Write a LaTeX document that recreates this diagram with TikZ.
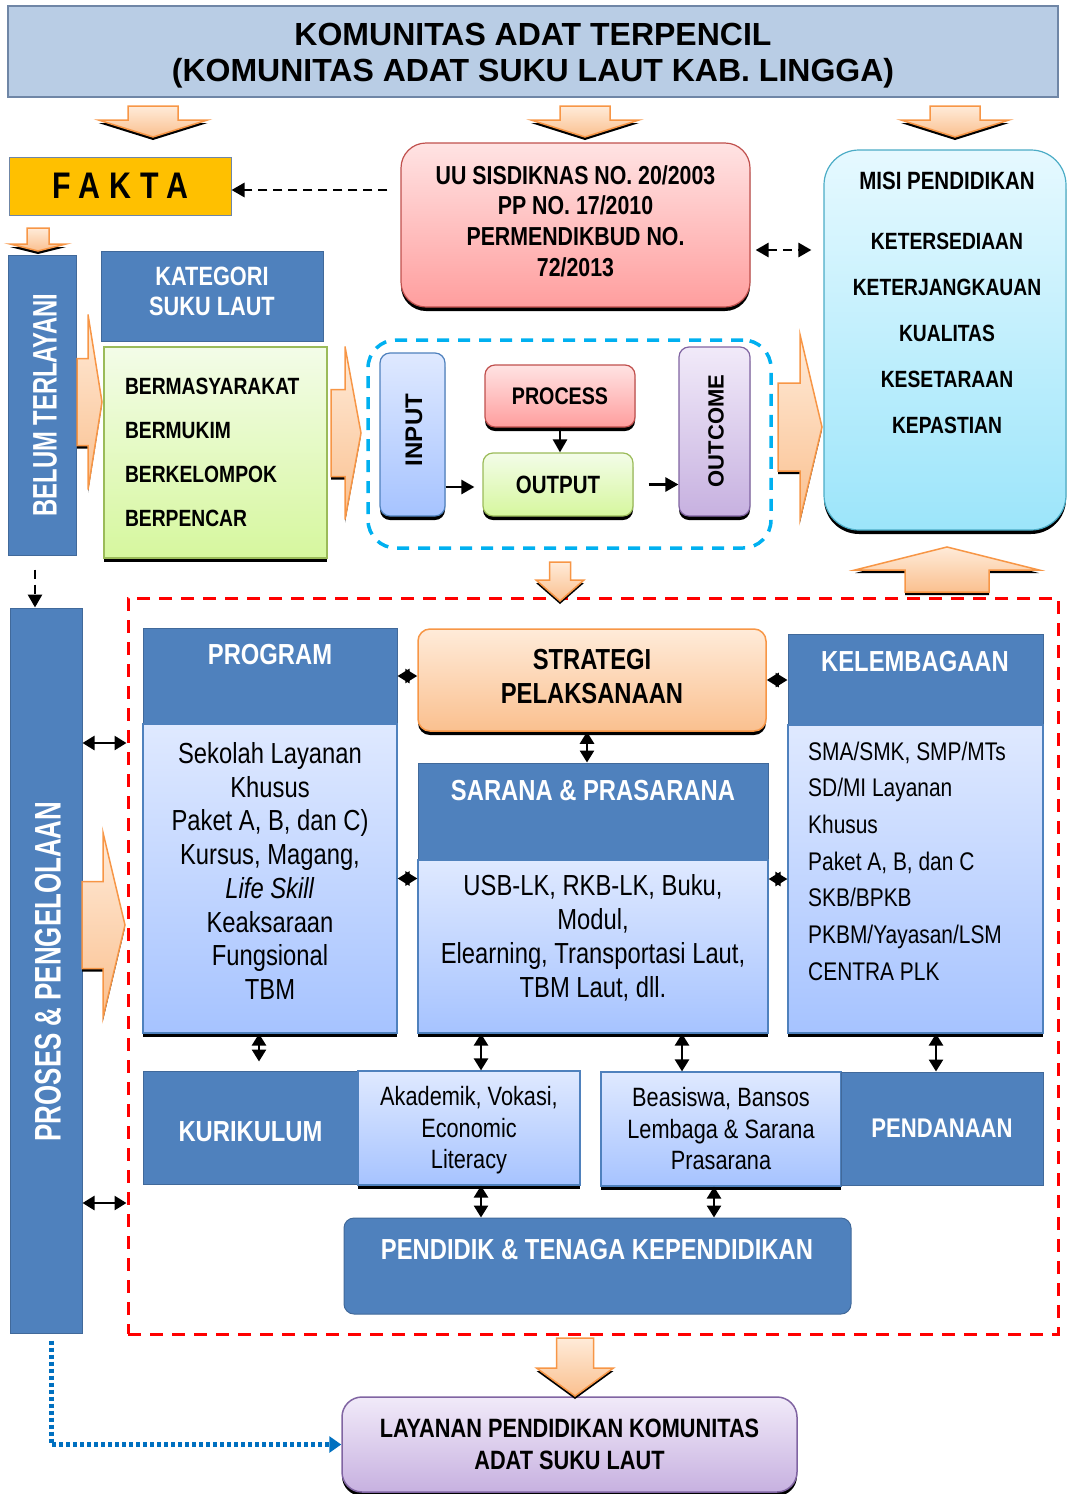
\documentclass[tikz,border=0pt]{standalone}
\usepackage{fontspec}
\setmainfont{Liberation Sans}
\newfontfamily\nar[FakeStretch=0.82]{Liberation Sans}
\newfontfamily\cnd[FakeStretch=0.7]{Liberation Sans}
\usetikzlibrary{arrows.meta}

\definecolor{hdblue}{HTML}{4F81BD}
\definecolor{hdline}{HTML}{41699A}
\definecolor{titlefill}{HTML}{B9CDE5}
\definecolor{titleline}{HTML}{6F86A6}
\definecolor{faktafill}{HTML}{FFC000}
\definecolor{uutop}{HTML}{FFE3E3}
\definecolor{uubot}{HTML}{FF9E9E}
\definecolor{redline}{HTML}{C0504D}
\definecolor{misitop}{HTML}{E6F9FF}
\definecolor{misibot}{HTML}{9CE5FA}
\definecolor{misiline}{HTML}{4BACC6}
\definecolor{grntop}{HTML}{F3FCE8}
\definecolor{grnbot}{HTML}{D6F79E}
\definecolor{grnline}{HTML}{9BBB59}
\definecolor{blutop}{HTML}{DFE9FF}
\definecolor{blubot}{HTML}{A6C3FF}
\definecolor{bluline}{HTML}{4F81BD}
\definecolor{purtop}{HTML}{F1EAF9}
\definecolor{purbot}{HTML}{C7B1E0}
\definecolor{purline}{HTML}{8064A2}
\definecolor{orgtop}{HTML}{FFEBD9}
\definecolor{orgbot}{HTML}{FAC08F}
\definecolor{orgline}{HTML}{F79646}
\definecolor{cyanline}{HTML}{00B0F0}
\definecolor{dotblue}{HTML}{0070C0}

\newcommand{\fs}[2]{\fontsize{#1}{#2}\selectfont}
% block arrows: tail, base, tip, middle, half shaft, half head
\newcommand{\rarr}[6]{\draw[barrow] ({#1},{#4-#5}) -- ({#2},{#4-#5}) -- ({#2},{#4-#6}) -- ({#3},{#4}) -- ({#2},{#4+#6}) -- ({#2},{#4+#5}) -- ({#1},{#4+#5}) -- cycle;}
\newcommand{\varr}[6]{\draw[barrow] ({#1-#5},{#2}) -- ({#1+#5},{#2}) -- ({#1+#5},{#3}) -- ({#1+#6},{#3}) -- ({#1},{#4}) -- ({#1-#6},{#3}) -- ({#1-#5},{#3}) -- cycle;}

\begin{document}
\begin{tikzpicture}[x=1pt,y=-1pt,
  every node/.style={inner sep=0pt,align=center},
  drop/.style={preaction={fill=black,transform canvas={yshift=-4pt}}},
  hdr/.style={fill=hdblue,draw=hdline,line width=1pt},
  body/.style={top color=blutop,bottom color=blubot,draw=bluline,line width=1.2pt},
  wt/.style={text=white,font=\nar\bfseries\fs{29}{34}},
  barrow/.style={draw=orgline,line width=1.5pt,top color=orgtop,bottom color=orgbot,
    preaction={fill=black,transform canvas={yshift=-3pt}}},
  bi/.style={{Triangle[length=12pt,width=14pt]}-{Triangle[length=12pt,width=14pt]},line width=2.6pt},
  one/.style={-{Triangle[length=13pt,width=14pt]},line width=2.6pt},
  dasharr/.style={-{Triangle[length=13pt,width=14pt]},line width=2.8pt,dash pattern=on 9pt off 6pt}]

  \useasboundingbox (0,0) rectangle (1067,1494);

  \node[fill=titlefill,draw=titleline,line width=1.2pt,minimum width=1050,minimum height=91] (judul) at (533,51.5) {};
  \node[font=\bfseries\fs{32}{36}] (judult) at (533,56)
    {KOMUNITAS ADAT TERPENCIL\\(KOMUNITAS ADAT SUKU LAUT KAB. LINGGA)};

  \node[fill=faktafill,draw=titleline,line width=1pt,minimum width=222,minimum height=58,
    font=\nar\bfseries\fs{37}{40}\addfontfeatures{LetterSpace=25}] (fakta) at (120,186) {FAKTA};

  \node[drop,top color=uutop,bottom color=uubot,draw=redline,line width=1.2pt,rounded corners=25pt,
    minimum width=349,minimum height=164] (uu) at (575.5,225) {};
  \node[font=\nar\bfseries\fs{26}{30.7}] (uut) at (575.5,221)
    {UU SISDIKNAS NO. 20/2003\\PP NO. 17/2010\\PERMENDIKBUD NO.\\72/2013};

  \node[drop,top color=misitop,bottom color=misibot,draw=misiline,line width=1.2pt,rounded corners=35pt,
    minimum width=242,minimum height=380] (misi) at (945,340) {};
  \node[font=\nar\bfseries\fs{23.5}{46}] (misit) at (947,303)
    {\fs{25}{46}MISI PENDIDIKAN\\[14pt]KETERSEDIAAN\\KETERJANGKAUAN\\KUALITAS\\KESETARAAN\\KEPASTIAN};

  \node[hdr,minimum width=68,minimum height=300] (belum) at (42,405) {};
  \node[rotate=90,text=white,font=\cnd\bfseries\fs{34}{36}] (belumt) at (45,405) {BELUM TERLAYANI};

  \node[hdr,minimum width=222,minimum height=90] (kat) at (212,296) {};
  \node[text=white,font=\nar\bfseries\fs{26.5}{30}] (katt) at (212,291) {KATEGORI\\SUKU LAUT};

  \node[drop,top color=grntop,bottom color=grnbot,draw=grnline,line width=1.2pt,
    minimum width=223,minimum height=211,text width=181pt,inner xsep=21pt,align=left,
    font=\nar\bfseries\fs{23.5}{44}] (ciri) at (215.5,452.5)
    {BERMASYARAKAT\\BERMUKIM\\BERKELOMPOK\\BERPENCAR};

  \node[draw=cyanline,line width=3.5pt,dash pattern=on 12pt off 9pt,rounded corners=28pt,
    minimum width=403,minimum height=208] (io) at (569.5,444) {};
  \node[drop,top color=blutop,bottom color=blubot,draw=bluline,line width=1.2pt,rounded corners=10pt,
    minimum width=65,minimum height=163] (input) at (412.5,434.5) {};
  \node[rotate=90,font=\bfseries\fs{24}{24}] (inputt) at (414,430) {INPUT};
  \node[drop,top color=uutop,bottom color=uubot,draw=redline,line width=1.2pt,rounded corners=10pt,
    minimum width=150,minimum height=62,font=\nar\bfseries\fs{24}{24}] (process) at (560,396) {PROCESS};
  \node[drop,top color=grntop,bottom color=grnbot,draw=grnline,line width=1.2pt,rounded corners=10pt,
    minimum width=150,minimum height=63,font=\nar\bfseries\fs{25}{25}] (output) at (558,484.5) {OUTPUT};
  \node[drop,top color=purtop,bottom color=purbot,draw=purline,line width=1.2pt,rounded corners=10pt,
    minimum width=71,minimum height=169] (outcome) at (714.5,431.5) {};
  \node[rotate=90,font=\bfseries\fs{22}{22}] (outcomet) at (716,431) {OUTCOME};

  \node[draw=red,line width=3pt,dash pattern=on 13pt off 9pt,minimum width=930,minimum height=736] (zone) at (593,966) {};
  \node[hdr,minimum width=72,minimum height=725] (proses) at (46,970.5) {};
  \node[rotate=90,text=white,font=\cnd\bfseries\fs{37}{40}] (prosest) at (48,971.5) {PROSES \& PENGELOLAAN};

  \node[hdr,minimum width=254,minimum height=96] (prog) at (270,676) {};
  \node[wt] (progh) at (270,655) {PROGRAM};
  \node[drop,body,minimum width=254,minimum height=309] (progb) at (270,878.5) {};
  \node[font=\nar\fs{29}{33.7}] (progt) at (270,871)
    {Sekolah Layanan\\Khusus\\Paket A, B, dan C)\\Kursus, Magang,\\\textit{Life Skill}\\Keaksaraan\\Fungsional\\TBM};

  \node[drop,top color=orgtop,bottom color=orgbot,draw=orgline,line width=1.5pt,rounded corners=12pt,
    minimum width=348,minimum height=102] (strat) at (592,680) {};
  \node[font=\nar\bfseries\fs{29}{34}] (stratt) at (592,677) {STRATEGI\\PELAKSANAAN};

  \node[hdr,minimum width=350,minimum height=97] (sar) at (593,811.5) {};
  \node[wt] (sarh) at (593,791) {SARANA \& PRASARANA};
  \node[drop,body,minimum width=350,minimum height=173] (sarb) at (593,946.5) {};
  \node[font=\nar\fs{29}{34}] (sart) at (593,938)
    {USB-LK, RKB-LK, Buku,\\Modul,\\Elearning, Transportasi Laut,\\TBM Laut, dll.};

  \node[hdr,minimum width=255,minimum height=91] (kel) at (915.5,679.5) {};
  \node[wt] (kelh) at (915,662) {KELEMBAGAAN};
  \node[drop,body,minimum width=255,minimum height=308] (kelb) at (915.5,879) {};
  \node[anchor=west,align=left,font=\nar\fs{25.5}{36.7}] (kelt) at (808,861)
    {SMA/SMK, SMP/MTs\\SD/MI Layanan\\Khusus\\Paket A, B, dan C\\SKB/BPKB\\PKBM/Yayasan/LSM\\CENTRA PLK};

  \node[hdr,minimum width=215,minimum height=113] (kur) at (250.5,1127.5) {};
  \node[wt] (kurt) at (250.5,1132) {KURIKULUM};
  \node[drop,body,minimum width=222,minimum height=114] (akad) at (469,1128) {};
  \node[font=\nar\fs{26.5}{31.5}] (akadt) at (469,1130.5) {Akademik, Vokasi,\\Economic\\Literacy};
  \node[drop,body,minimum width=240,minimum height=114,font=\nar\fs{26.5}{31.5}] (beas) at (721,1129)
    {Beasiswa, Bansos\\Lembaga \& Sarana\\Prasarana};
  \node[hdr,minimum width=202,minimum height=113,text=white,font=\nar\bfseries\fs{27}{30}] (pend) at (942,1128.5) {PENDANAAN};

  \node[hdr,rounded corners=10pt,minimum width=507,minimum height=96] (pendidik) at (597.5,1266) {};
  \node[wt] (pendidikt) at (597,1249) {PENDIDIK \& TENAGA KEPENDIDIKAN};

  \node[drop,top color=purtop,bottom color=purbot,draw=purline,line width=1.5pt,rounded corners=20pt,
    minimum width=455,minimum height=95,font=\nar\bfseries\fs{26.5}{32}] (layanan) at (569.5,1444.5)
    {LAYANAN PENDIDIKAN KOMUNITAS\\ADAT SUKU LAUT};

  % block arrows
  \varr{153}{106}{120}{137}{25}{54.5}
  \varr{585}{106}{120}{137}{25}{54}
  \varr{955}{106}{120}{137}{25}{54}
  \varr{38}{228}{244}{251}{11}{28}
  \rarr{77}{88}{102}{402}{43.5}{87.5}
  \rarr{331}{345}{361}{433}{43.5}{86.5}
  \rarr{778}{800}{822}{427}{44}{92.5}
  \rarr{82}{103}{125}{925}{43.5}{92.5}
  \varr{560}{562}{580}{601}{10.5}{24}
  \varr{947}{592}{570}{547}{42}{92}
  \varr{575}{1338}{1368}{1396}{18.5}{38.5}

  \draw[dasharr,shorten <=13pt] (uu.west |- 0,190) -- (fakta.east |- 0,190);
  \draw[dasharr,{Triangle[length=13pt,width=14pt]}-{Triangle[length=13pt,width=14pt]},shorten <=5pt,shorten >=12pt]
    (uu.east |- 0,250) -- (misi.west |- 0,250);
  \draw[one] (process.south) -- (process.south |- output.north);
  \draw[one,shorten >=8pt] (input.east |- 0,487) -- (output.west |- 0,487);
  \draw[one,shorten <=15pt] (output.east) -- (outcome.west |- output.east);

  \draw[dasharr,shorten <=14pt] (belum.south -| 35,0) -- (proses.north -| 35,0);
  \draw[bi] (proses.east |- 0,743) -- (zone.west |- 0,743);
  \draw[bi] (proses.east |- 0,1203) -- (zone.west |- 0,1203);

  \draw[bi] (prog.east) -- (prog.east -| strat.west);
  \draw[bi] (strat.east) -- (strat.east -| kel.west);
  \draw[bi] (progb.east) -- (progb.east -| sarb.west);
  \draw[bi] (kelb.west) -- (kelb.west -| sarb.east);
  \draw[bi] (strat.south -| 587,0) -- (sar.north -| 587,0);
  \draw[bi,shorten >=9pt] (progb.south -| 259,0) -- (kur.north -| 259,0);
  \draw[bi] (sarb.south -| 481,0) -- (akad.north -| 481,0);
  \draw[bi] (sarb.south -| 682,0) -- (beas.north -| 682,0);
  \draw[bi] (kelb.south -| 936,0) -- (pend.north -| 936,0);
  \draw[bi] (akad.south -| 481,0) -- (pendidik.north -| 481,0);
  \draw[bi] (beas.south -| 714,0) -- (pendidik.north -| 714,0);

  \draw[dotblue,line width=5pt,dash pattern=on 4pt off 3pt,-{Triangle[length=12pt,width=16pt]},shorten <=7pt]
    (proses.south -| 51,0) |- (layanan.west);
\end{tikzpicture}
\end{document}
